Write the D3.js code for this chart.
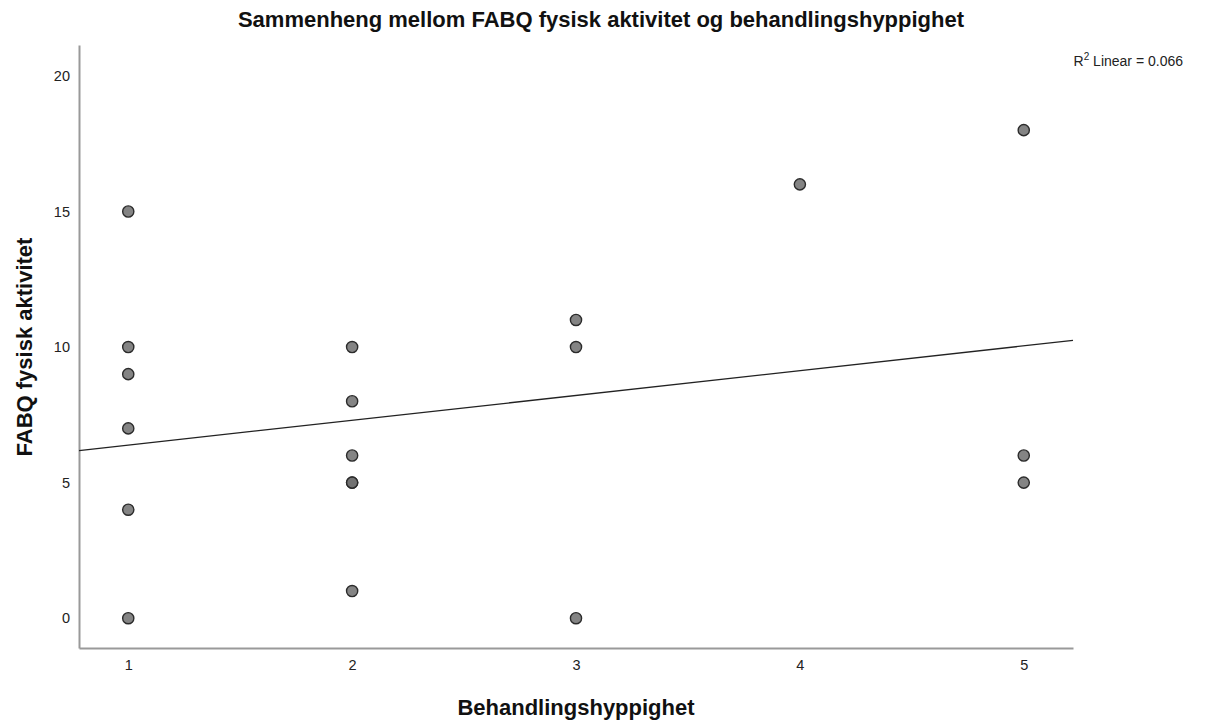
<!DOCTYPE html>
<html>
<head>
<meta charset="utf-8">
<script src="https://cdn.jsdelivr.net/npm/d3@7"></script>
<style>
  body { margin: 0; background: #fff; }
  text { font-family: "Liberation Sans", Arial, sans-serif; }
</style>
</head>
<body>
<svg class="chart-svg"></svg>
<script>
// behandlingshyppighet (x) and FABQ fysisk aktivitet (y)
const freq = [1, 1, 1, 1, 1, 1, 2, 2, 2, 2, 2, 2, 3, 3, 3, 4, 5, 5, 5];
const fabq = [15, 10, 9, 7, 4, 0, 10, 8, 6, 5, 5, 1, 11, 10, 0, 16, 18, 6, 5];
const xTicks = [1, 2, 3, 4, 5];
const yTicks = [0, 5, 10, 15, 20];

const width = 1205;
const height = 720;
const plotLeft = 79, plotRight = 1073, plotTop = 45, plotBottom = 648;

const svg = d3.select(".chart-svg").attr("width", width).attr("height", height);

const xScale = d3.scaleLinear().domain([0.78, 5.22]).range([plotLeft, plotRight]);
const yScale = d3.scaleLinear().domain([-1.1, 21.14]).range([plotBottom, plotTop]);

// least squares fit
const mx = d3.mean(freq), my = d3.mean(fabq);
let sxy = 0, sxx = 0, syy = 0;
freq.forEach((x, i) => {
  sxy += (x - mx) * (fabq[i] - my);
  sxx += (x - mx) * (x - mx);
  syy += (fabq[i] - my) * (fabq[i] - my);
});
const slope = sxy / sxx;
const intercept = my - slope * mx;
const r2 = (sxy * sxy) / (sxx * syy);

// axes
svg.append("g")
  .attr("transform", "translate(" + plotLeft + ",0)")
  .call(d3.axisLeft(yScale).tickValues(yTicks).tickFormat(d3.format("d")).tickSize(0).tickPadding(9))
  .call((g) => g.select(".domain").attr("stroke", "#999").attr("stroke-width", 2))
  .selectAll("text")
  .style("font-size", 14.5)
  .attr("fill", "#222");

svg.append("g")
  .attr("transform", "translate(0," + plotBottom + ")")
  .call(d3.axisBottom(xScale).tickValues(xTicks).tickFormat(d3.format("d")).tickSize(0).tickPadding(12))
  .call((g) => g.select(".domain").attr("stroke", "#999").attr("stroke-width", 2))
  .selectAll("text")
  .style("font-size", 14.5)
  .attr("fill", "#222");

// fit line across the whole plot
const xd = xScale.domain();
svg.append("line")
  .attr("x1", xScale(xd[0]))
  .attr("y1", yScale(intercept + slope * xd[0]))
  .attr("x2", xScale(xd[1]))
  .attr("y2", yScale(intercept + slope * xd[1]))
  .attr("stroke", "#222")
  .attr("stroke-width", 1.3);

// points
svg.append("g")
  .selectAll("circle")
  .data(freq.map((x, i) => ({ x: x, y: fabq[i] })))
  .enter()
  .append("circle")
  .attr("cx", (d) => xScale(d.x))
  .attr("cy", (d) => yScale(d.y))
  .attr("r", 5.6)
  .attr("fill", "#6e6e6e")
  .attr("fill-opacity", 0.85)
  .attr("stroke", "#2b2b2b")
  .attr("stroke-width", 1.4);

// title and labels
svg.append("text")
  .attr("x", 601)
  .attr("y", 27)
  .attr("text-anchor", "middle")
  .style("font-size", 22)
  .style("font-weight", "bold")
  .attr("fill", "#111")
  .text("Sammenheng mellom FABQ fysisk aktivitet og behandlingshyppighet");

svg.append("text")
  .attr("x", 576)
  .attr("y", 715)
  .attr("text-anchor", "middle")
  .style("font-size", 22)
  .style("font-weight", "bold")
  .attr("fill", "#111")
  .text("Behandlingshyppighet");

svg.append("text")
  .attr("transform", "rotate(-90)")
  .attr("x", -347)
  .attr("y", 32)
  .attr("text-anchor", "middle")
  .style("font-size", 22)
  .style("font-weight", "bold")
  .attr("fill", "#111")
  .text("FABQ fysisk aktivitet");

const r2Label = svg.append("text")
  .attr("x", 1183)
  .attr("y", 66)
  .attr("text-anchor", "end")
  .style("font-size", 14)
  .attr("fill", "#222");
r2Label.append("tspan").text("R");
r2Label.append("tspan").attr("dy", -6).style("font-size", 10).text("2");
r2Label.append("tspan").attr("dy", 6).text(" Linear = " + r2.toFixed(3));
</script>
</body>
</html>
